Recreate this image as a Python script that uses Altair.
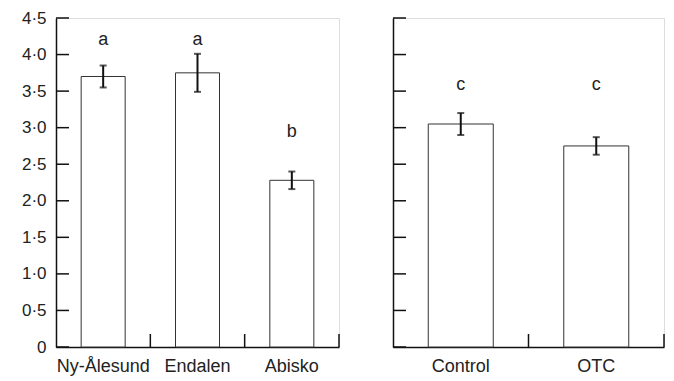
import altair as alt
import pandas as pd

# Data
sites = ["Ny-Ålesund", "Endalen", "Abisko"]
site_mean = [3.70, 3.75, 2.28]
site_se = [0.15, 0.26, 0.12]
site_letter = ["a", "a", "b"]
site_letter_y = [4.20, 4.20, 2.94]

treats = ["Control", "OTC"]
treat_mean = [3.05, 2.75]
treat_se = [0.15, 0.12]
treat_letter = ["c", "c"]
treat_letter_y = [3.58, 3.58]

y_ticks = [0, 0.5, 1.0, 1.5, 2.0, 2.5, 3.0, 3.5, 4.0, 4.5]

FONT = "Liberation Sans"
H = 329

df_left = pd.DataFrame({"cat": sites, "mean": site_mean, "se": site_se,
                        "letter": site_letter, "ly": site_letter_y})
df_right = pd.DataFrame({"cat": treats, "mean": treat_mean, "se": treat_se,
                         "letter": treat_letter, "ly": treat_letter_y})
for d in (df_left, df_right):
    d["lo"] = d["mean"] - d["se"]
    d["hi"] = d["mean"] + d["se"]
df_ticks = pd.DataFrame({"v": y_ticks})

yscale = alt.Scale(domain=[0, 4.5], nice=False, zero=True)


def panel(df, cats, width, bar_w, show_labels):
    xscale = alt.Scale(paddingInner=0, paddingOuter=0)
    xaxis = alt.Axis(title=None, ticks=False, labelAngle=0, labelPadding=10,
                     labelFontSize=18, labelFont=FONT, labelColor="#222",
                     labelOverlap=False,
                     domainColor="#111", domainWidth=1.5)
    if show_labels:
        yaxis = alt.Axis(title=None, values=y_ticks, ticks=False, tickSize=0,
                         labelExpr="datum.value == 0 ? '0' : replace(format(datum.value, '.1f'), '.', '·')",
                         labelFontSize=17, labelFont=FONT, labelColor="#222",
                         labelOverlap=False, labelBound=False,
                         labelPadding=10, minExtent=43, maxExtent=43,
                         grid=False, domainColor="#111", domainWidth=1.5)
    else:
        yaxis = alt.Axis(title=None, values=y_ticks, ticks=False, tickSize=0,
                         labels=False, minExtent=0, maxExtent=0, grid=False,
                         domainColor="#111", domainWidth=1.5)

    base = alt.Chart(df)
    x = alt.X("cat:N", sort=cats, scale=xscale, axis=xaxis)

    bars = base.mark_bar(size=bar_w, fill="white", stroke="#333",
                         strokeWidth=1).encode(
        x=x, y=alt.Y("mean:Q", scale=yscale, axis=yaxis))
    err = base.mark_rule(color="#111", strokeWidth=2).encode(
        x=alt.X("cat:N", sort=cats, axis=xaxis),
        y=alt.Y("lo:Q", axis=yaxis), y2="hi:Q")
    cap_hi = base.mark_tick(color="#111", size=7, thickness=2).encode(
        x=alt.X("cat:N", sort=cats, axis=xaxis), y=alt.Y("hi:Q", axis=yaxis))
    cap_lo = base.mark_tick(color="#111", size=7, thickness=2).encode(
        x=alt.X("cat:N", sort=cats, axis=xaxis), y=alt.Y("lo:Q", axis=yaxis))
    letters = base.mark_text(font=FONT, fontSize=18, color="#222",
                             baseline="middle").encode(
        x=alt.X("cat:N", sort=cats, axis=xaxis), y=alt.Y("ly:Q", axis=yaxis),
        text="letter:N")
    yt = alt.Chart(df_ticks).mark_rule(color="#111", strokeWidth=1.5).encode(
        y=alt.Y("v:Q", axis=yaxis), x=alt.value(0), x2=alt.value(13))
    xt = base.mark_rule(color="#111", strokeWidth=1.5).encode(
        x=alt.X("cat:N", sort=cats, bandPosition=1, axis=xaxis),
        y=alt.value(H), y2=alt.value(H - 13))

    return alt.layer(bars, err, cap_hi, cap_lo, letters, yt, xt).properties(
        width=width, height=H)


left = panel(df_left, sites, 283, 44, True)
right = panel(df_right, treats, 271, 65, False)

chart = alt.hconcat(left, right, spacing=50).properties(
    padding={"left": 4, "top": 0, "right": 0, "bottom": 0}
).configure_view(stroke=None).configure_axis(
    labelOverlap=False, labelBound=False
).configure(background="white")

chart.save("out.html", embed_options={"renderer": "svg", "actions": False})
